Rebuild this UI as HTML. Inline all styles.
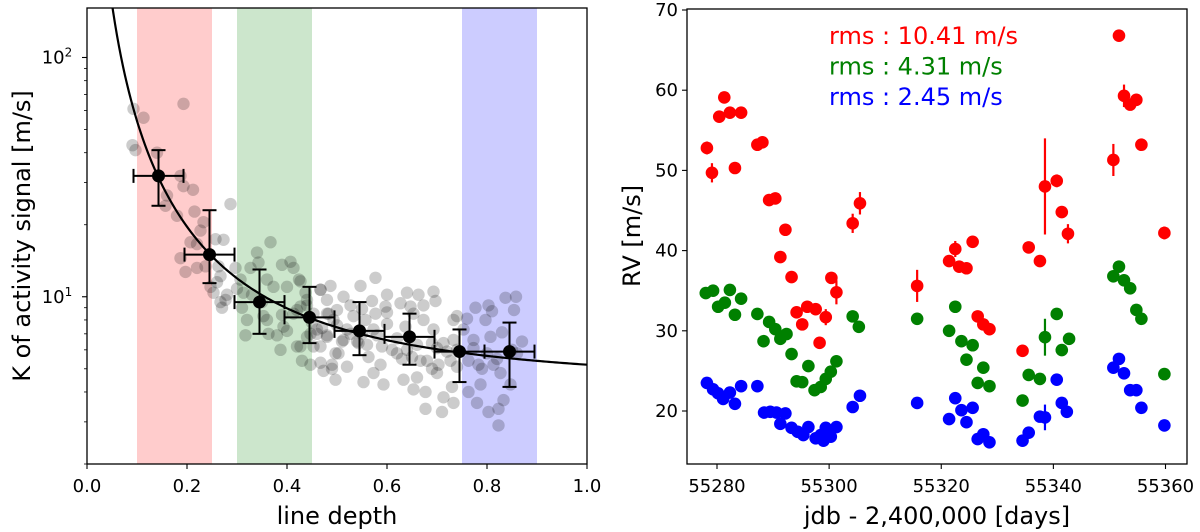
<!DOCTYPE html>
<html><head><meta charset="utf-8">
<style>
html,body{margin:0;padding:0;background:#fff;}
svg{display:block;font-family:"DejaVu Sans","Liberation Sans",sans-serif;}
</style></head>
<body>
<svg id="fig" width="1200" height="532" viewBox="0 0 1200 532" xmlns="http://www.w3.org/2000/svg">
<g id="left"></g>
<g id="right"></g>
</svg>
<script>
// ---------- LEFT PANEL DATA ----------
const depthTicks = [0.0,0.2,0.4,0.6,0.8,1.0];
const depthTickLabels = ["0.0","0.2","0.4","0.6","0.8","1.0"];
const bandStarts = [0.10,0.30,0.75];
const bandEnds = [0.25,0.45,0.90];
const bandColors = ["rgba(255,0,0,0.2)","rgba(0,128,0,0.2)","rgba(0,0,255,0.2)"];
const scatterDepth = [0.093,0.113,0.193,0.091,0.097,0.14,0.187,0.193,0.212,0.16,0.157,0.18,0.215,0.233,0.287,0.227,0.22,0.207,0.187,0.197,0.22,0.237,0.257,0.273,0.263,0.267,0.247,0.253,0.267,0.277,0.297,0.307,0.327,0.34,0.367,0.343,0.36,0.373,0.39,0.407,0.413,0.4,0.427,0.437,0.313,0.32,0.317,0.353,0.363,0.38,0.387,0.393,0.42,0.413,0.427,0.447,0.453,0.467,0.48,0.467,0.49,0.497,
0.424,0.44,0.467,0.487,0.48,0.513,0.547,0.577,0.6,0.577,0.557,0.533,0.493,0.483,0.46,0.44,0.427,0.467,0.447,0.43,0.473,0.497,0.49,0.52,0.503,0.543,0.563,0.553,0.573,0.593,0.587,0.62,0.64,0.633,0.653,0.66,0.677,0.677,0.71,0.713,0.7,0.703,0.667,0.69,0.693,0.673,0.653,0.637,0.647,0.64,0.663,0.693,0.697,0.673,0.597,0.6,0.573,0.527,0.513,0.57,0.627,0.527,0.48,0.453,0.733,0.713,0.727,0.74,
0.74,0.76,0.777,0.803,0.81,0.837,0.797,0.753,0.733,0.773,0.773,0.763,0.783,0.807,0.83,0.787,0.763,0.73,0.733,0.78,0.803,0.823,0.833,0.823,0.827,0.847,0.85,0.86,0.8,0.813,0.858,0.854,
0.45,0.47,0.5,0.52,0.55,0.58,0.62,0.66,0.7,0.72,0.5,0.55,0.6,0.42,0.44,0.39,0.35,0.33,0.3,0.31,0.26,0.28,0.27,0.46,0.51,0.56,0.61,0.65,0.68,0.74,0.79,0.82,0.87,0.36,0.4,0.48,0.54,0.59,0.63,0.69];
const scatterK = [61,56,64,43,41,40,32,29,28,26.5,24,21.8,22.7,20.5,24.4,18.9,16.6,16.9,14.5,12.7,13.2,13.4,17.4,17.3,13.4,12.2,11.0,10.4,9.5,9.7,13.2,11.8,13.2,15.3,16.9,13.9,11.8,11.0,13.6,14,13.2,11,11.6,10.4,10.4,8.0,6.9,8.3,7.0,6.9,6.0,7.5,6.2,8.5,9.1,7.0,6.2,10.7,8.5,5.3,5.0,5.8,
11.8,9.7,10.7,11.1,9.7,10,11.1,12,10.2,8.5,8.0,8.3,8.0,8.5,7.3,6.8,6.2,6.2,5.2,5.4,4.9,4.5,5.2,5.1,5.8,6.4,5.6,4.4,4.8,4.3,5.2,5.8,6.0,4.5,4.1,4.6,4.0,3.4,3.3,3.8,4.8,5.2,5.4,6.4,7.3,8.0,8.5,7.5,9.1,10.4,10.2,10.5,9.6,9.2,9.1,7.7,7.3,7.0,6.6,9.6,9.4,9.2,6.8,8.5,8.0,6.4,5.4,6.0,
8.3,8.1,9.0,9.2,8.7,9.9,8.0,7.3,6.6,6.6,6.1,5.4,5.2,6.8,7.1,4.3,4.0,4.2,3.6,3.6,3.3,3.4,3.7,2.9,4.8,4.3,6.0,5.8,5.8,5.2,10,8.8,
7.8,7.4,7.6,7.3,7.0,6.9,6.7,6.3,6.1,5.9,8.8,8.9,8.6,8.8,9.2,8.4,9.5,10.2,10.8,9.0,11.5,10.2,9.0,7.0,6.5,6.3,6.0,5.6,5.4,5.1,5.0,5.5,6.5,8.0,7.2,6.9,6.5,6.2,5.5,5.0];
const binDepth = [0.143,0.245,0.345,0.445,0.545,0.645,0.745,0.845];
const binDepthErr = [0.05,0.05,0.05,0.05,0.05,0.05,0.05,0.05];
const binK = [32,15,9.5,8.2,7.2,6.8,5.9,5.9];
const binKLow = [24,11.4,7.0,6.4,5.7,5.2,4.4,4.2];
const binKHigh = [41,23,13,11,9.5,8.5,7.3,7.8];
const fitOffset = 4.2, fitExp = 1.7; // K = offset + depth^-exp

// ---------- RIGHT PANEL DATA ----------
const dayTicks = [55280,55300,55320,55340,55360];
const rvTicks = [20,30,40,50,60,70];
const redDays = [55278.2,55279.1,55280.4,55281.3,55282.3,55284.3,55283.2,55287.2,55288.1,55289.3,55290.4,55292.2,55291.3,55293.3,55294.2,55295.2,55296.1,55297.6,55299.4,55298.3,55300.4,55301.3,55304.2,55305.5,55315.7,55322.5,55321.4,55323.2,55324.5,55325.6,55326.5,55327.5,55328.6,55334.5,55335.6,55337.6,55338.5,55340.6,55341.5,55342.6,55351.7,55352.6,55353.7,55354.8,55355.7,55350.7,55359.8];
const redRV = [52.8,49.7,56.7,59.1,57.2,57.2,50.3,53.2,53.5,46.3,46.5,42.6,39.2,36.7,32.3,30.8,33.0,32.7,31.7,28.5,36.6,34.8,43.4,45.9,35.6,40.2,38.7,38.0,37.8,41.1,31.8,30.8,30.2,27.5,40.4,38.7,48.0,48.7,44.8,42.1,66.8,59.3,58.2,58.8,53.2,51.3,42.2];
const redErr = [0.8,1.2,0.6,0.6,0.6,0.6,0.6,0.6,0.6,0.6,0.6,0.6,0.6,0.6,0.6,0.6,0.6,0.6,1.0,0.6,0.6,1.5,1.2,1.4,2.0,1.0,0.6,0.6,0.6,0.6,0.6,0.6,0.6,0.6,0.6,0.6,6.0,0.8,0.6,1.2,0.6,1.4,0.6,0.6,0.6,2.0,0.8];
const greenDays = [55278.0,55279.3,55282.3,55284.3,55280.2,55281.4,55283.2,55287.2,55289.3,55290.4,55288.3,55291.3,55292.4,55293.3,55296.3,55294.2,55295.2,55297.4,55298.5,55299.4,55300.3,55301.3,55304.2,55305.3,55315.7,55322.5,55321.4,55323.6,55325.6,55324.5,55327.5,55326.5,55328.6,55334.5,55335.6,55337.6,55338.5,55340.6,55342.8,55341.5,55351.7,55350.7,55352.6,55353.7,55354.8,55355.7,55359.8];
const greenRV = [34.7,35.0,35.1,34.0,33.0,33.5,32.0,32.1,31.1,30.2,28.7,29.0,29.6,27.1,25.6,23.7,23.6,22.6,23.0,24.0,24.9,26.2,31.8,30.5,31.5,33.0,30.0,28.7,28.2,26.4,25.4,23.5,23.1,21.3,24.5,24.0,29.2,32.1,29.0,27.6,38.0,36.8,36.3,35.3,32.6,31.5,24.6];
const greenErr = [0.5,0.5,0.5,0.5,0.5,0.5,0.5,0.5,0.5,0.5,0.5,0.5,0.5,0.5,0.5,0.5,0.5,0.5,0.5,0.5,0.5,0.5,0.5,0.5,0.5,0.5,0.5,0.5,0.5,0.5,0.5,0.5,0.5,0.5,0.5,0.5,2.3,0.5,0.5,0.5,0.5,0.5,0.5,0.5,0.5,0.5,0.5];
const blueDays = [55278.2,55279.3,55280.2,55281.1,55282.3,55283.2,55284.3,55287.2,55288.4,55289.5,55290.6,55292.2,55291.3,55293.3,55294.4,55296.3,55295.4,55297.6,55299.4,55298.5,55301.3,55300.3,55299.0,55304.2,55305.5,55315.7,55322.5,55323.6,55325.6,55321.4,55324.5,55326.5,55327.5,55328.6,55334.5,55335.6,55337.6,55338.5,55340.6,55341.5,55342.4,55351.7,55350.7,55352.6,55353.7,55354.8,55355.7,55359.8];
const blueRV = [23.5,22.7,22.2,21.5,22.3,20.9,23.1,23.1,19.8,19.9,19.8,19.7,18.4,17.9,17.4,18.0,17.0,16.6,17.9,17.0,18.0,16.8,16.3,20.5,21.9,21.0,21.6,20.1,20.4,19.0,18.6,16.5,17.1,16.1,16.3,17.3,19.3,19.2,23.9,21.0,19.9,26.5,25.4,24.7,22.6,22.6,20.4,18.2];
const blueErr = [0.4,0.4,0.4,0.4,0.4,0.4,0.4,0.4,0.4,0.4,0.4,0.4,0.4,0.4,0.4,0.4,0.4,0.4,0.4,0.4,0.4,0.4,0.4,0.4,0.4,0.4,0.4,0.4,0.4,0.4,0.4,0.4,0.4,0.4,0.4,0.4,0.4,1.6,0.4,0.4,0.4,0.4,0.4,0.4,0.4,0.4,0.4,0.4];
const rmsLabels = ["rms : 10.41 m/s","rms : 4.31 m/s","rms : 2.45 m/s"];
const seriesColors = ["#ff0000","#008000","#0000ff"];

// ---------- helpers ----------
const NS = "http://www.w3.org/2000/svg";
function mk(parent, tag, attrs, text){
  const el = document.createElementNS(NS, tag);
  for (const k in attrs) el.setAttribute(k, attrs[k]);
  if (text !== undefined) el.textContent = text;
  parent.appendChild(el);
  return el;
}
const L = {x0:87, x1:587, y0:8, y1:464};
const kTop = 161, kBot = 2.0;
function lx(d){ return L.x0 + (d-0)/(1-0)*(L.x1-L.x0); }
function ly(k){ return L.y1 - (Math.log10(k)-Math.log10(kBot))/(Math.log10(kTop)-Math.log10(kBot))*(L.y1-L.y0); }
const R = {x0:687, x1:1187, y0:9, y1:464};
function rx(d){ return 717 + (d-55280)*(1165.5-717)/80; }
function ry(v){ return 411 - (v-20)*(411-10)/50; }

const left = document.getElementById('left');
const right = document.getElementById('right');
const TICKFS = 18, TITLEFS = 24;

const defs = mk(document.getElementById('fig'), 'defs', {});
const cpL = mk(defs,'clipPath',{id:'clipL'}); mk(cpL,'rect',{x:L.x0,y:L.y0,width:L.x1-L.x0,height:L.y1-L.y0});
const cpR = mk(defs,'clipPath',{id:'clipR'}); mk(cpR,'rect',{x:R.x0,y:R.y0,width:R.x1-R.x0,height:R.y1-R.y0});

const bandNames = ['red-band','green-band','blue-band'];
bandStarts.forEach((s,i)=>{
  const r = mk(left,'rect',{x:lx(s),y:L.y0,width:lx(bandEnds[i])-lx(s),height:L.y1-L.y0,fill:bandColors[i]});
  
  
});
const gs = mk(left,'g',{'clip-path':'url(#clipL)'});


scatterDepth.forEach((d,i)=>{
  const c = mk(gs,'circle',{cx:lx(d),cy:ly(scatterK[i]),r:6.2,fill:'#000','fill-opacity':0.2});
  
  
});
let pts=[];
for(let d=0.04; d<=1.0001; d+=0.004){ pts.push(lx(d).toFixed(2)+','+ly(fitOffset+Math.pow(d,-fitExp)).toFixed(2)); }
const curve = mk(left,'polyline',{points:pts.join(' '),fill:'none',stroke:'#000','stroke-width':2.2,'clip-path':'url(#clipL)'});


binDepth.forEach((d,i)=>{
  const g = mk(left,'g',{stroke:'#000','stroke-width':2});
  
  
  const cx = lx(d), cy = ly(binK[i]);
  const xa = lx(d-binDepthErr[i]), xb = lx(d+binDepthErr[i]);
  const ya = ly(binKLow[i]), yb = ly(binKHigh[i]);
  mk(g,'line',{x1:xa,y1:cy,x2:xb,y2:cy});
  mk(g,'line',{x1:xa,y1:cy-7,x2:xa,y2:cy+7});
  mk(g,'line',{x1:xb,y1:cy-7,x2:xb,y2:cy+7});
  mk(g,'line',{x1:cx,y1:ya,x2:cx,y2:yb});
  mk(g,'line',{x1:cx-7,y1:ya,x2:cx+7,y2:ya});
  mk(g,'line',{x1:cx-7,y1:yb,x2:cx+7,y2:yb});
  mk(g,'circle',{cx:cx,cy:cy,r:6.5,fill:'#000',stroke:'none'});
});
const fl = mk(left,'rect',{x:L.x0,y:L.y0,width:L.x1-L.x0,height:L.y1-L.y0,fill:'none',stroke:'#000','stroke-width':1.3});


depthTicks.forEach((t,i)=>{
  mk(left,'line',{x1:lx(t),y1:L.y1,x2:lx(t),y2:L.y1+5,stroke:'#000','stroke-width':1.1});
  const tl = mk(left,'text',{x:lx(t),y:L.y1+28,'font-size':TICKFS,'text-anchor':'middle'},depthTickLabels[i]);
  
  
});
for(let dec=0; dec<=2; dec++){
  for(let m=1;m<=9;m++){
    const v = m*Math.pow(10,dec);
    if(v<kBot||v>kTop) continue;
    const y = ly(v);
    mk(left,'line',{x1:L.x0-(m===1?5:3),y1:y,x2:L.x0,y2:y,stroke:'#000','stroke-width':(m===1?1.1:0.8)});
    if(m===1){
      const tl = mk(left,'text',{x:L.x0-30,y:y+6,'font-size':TICKFS,'text-anchor':'middle'},'10');
      
      
      mk(tl,'tspan',{dy:-7,'font-size':12},String(dec));
    }
  }
}
const xlL = mk(left,'text',{x:337,y:524,'font-size':TITLEFS,'text-anchor':'middle'},'line depth');


const ylL = mk(left,'text',{x:0,y:0,'font-size':TITLEFS,'text-anchor':'middle',transform:'translate(30,236) rotate(-90)'},'K of activity signal [m/s]');



const seriesDays=[redDays,greenDays,blueDays], seriesRV=[redRV,greenRV,blueRV], seriesErr=[redErr,greenErr,blueErr];
const seriesNames=['rv-raw-series','rv-corrected-series','rv-residual-series'];
seriesDays.forEach((days,s)=>{
  const g = mk(right,'g',{'clip-path':'url(#clipR)'});
  
  
  days.forEach((d,i)=>{
    const cx=rx(d), cy=ry(seriesRV[s][i]), e=seriesErr[s][i];
    mk(g,'line',{x1:cx,y1:ry(seriesRV[s][i]-e),x2:cx,y2:ry(seriesRV[s][i]+e),stroke:seriesColors[s],'stroke-width':2.2});
    const c = mk(g,'circle',{cx:cx,cy:cy,r:6.3,fill:seriesColors[s]});
    
    
  });
});
const fr = mk(right,'rect',{x:R.x0,y:R.y0,width:R.x1-R.x0,height:R.y1-R.y0,fill:'none',stroke:'#000','stroke-width':1.3});


dayTicks.forEach(t=>{
  mk(right,'line',{x1:rx(t),y1:R.y1,x2:rx(t),y2:R.y1+5,stroke:'#000','stroke-width':1.1});
  const tl = mk(right,'text',{x:rx(t),y:R.y1+28,'font-size':TICKFS,'text-anchor':'middle'},String(t));
  
  
});
rvTicks.forEach(t=>{
  mk(right,'line',{x1:R.x0-5,y1:ry(t),x2:R.x0,y2:ry(t),stroke:'#000','stroke-width':1.1});
  const tl = mk(right,'text',{x:R.x0-9,y:ry(t)+6,'font-size':TICKFS,'text-anchor':'end'},String(t));
  
  
});
rmsLabels.forEach((t,i)=>{
  const tl = mk(right,'text',{x:829,y:44+i*30.5,'font-size':24,fill:seriesColors[i]},t);
  
  
});
const xlR = mk(right,'text',{x:937,y:524,'font-size':TITLEFS,'text-anchor':'middle'},'jdb - 2,400,000 [days]');


const ylR = mk(right,'text',{x:0,y:0,'font-size':TITLEFS,'text-anchor':'middle',transform:'translate(640,236) rotate(-90)'},'RV [m/s]');


</script>
</body></html>
